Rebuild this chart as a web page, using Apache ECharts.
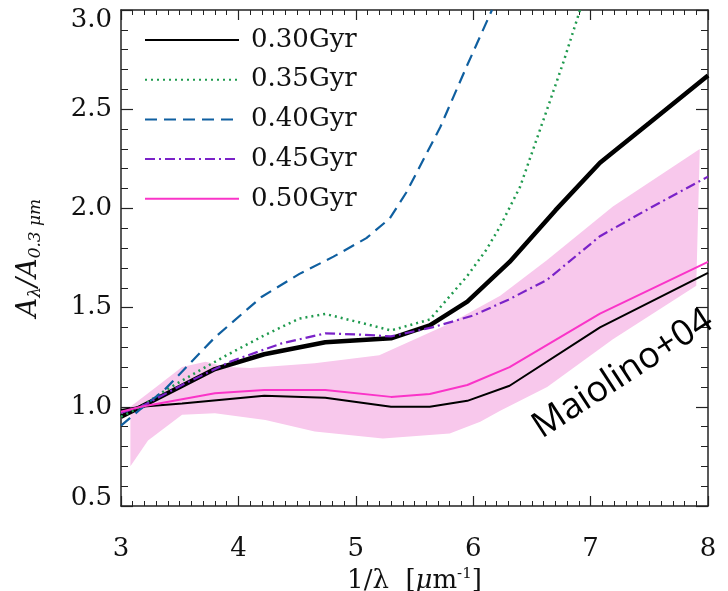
<!DOCTYPE html>
<html>
<head>
<meta charset="utf-8">
<script src="https://cdn.jsdelivr.net/npm/echarts@6/dist/echarts.min.js"></script>
<style>
html,body{margin:0;padding:0;background:#fff;}
#chart{width:728px;height:591px;}
</style>
</head>
<body>
<div id="chart"></div>
<script>
// ---- data ----
var xTicks = [3, 4, 5, 6, 7, 8];
var yTicks = [0.5, 1.0, 1.5, 2.0, 2.5, 3.0];

var legendNames = ['0.30Gyr', '0.35Gyr', '0.40Gyr', '0.45Gyr', '0.50Gyr'];

// thick black (unlabelled)
var thickX = [3.0, 3.17, 3.5, 3.8, 4.22, 4.74, 5.3, 5.63, 5.95, 6.31, 6.7, 7.08, 7.5, 8.0];
var thickY = [0.95, 1.0, 1.10, 1.19, 1.265, 1.325, 1.345, 1.41, 1.53, 1.73, 1.99, 2.23, 2.43, 2.67];

// 0.30 Gyr (thin black)
var g030X = [3.0, 3.17, 3.52, 4.22, 4.74, 5.3, 5.63, 5.95, 6.31, 7.08, 8.0];
var g030Y = [0.984, 1.0, 1.017, 1.056, 1.046, 1.0, 1.0, 1.03, 1.106, 1.40, 1.675];

// 0.35 Gyr (green dotted)
var g035X = [3.0, 3.17, 3.37, 3.66, 3.9, 4.22, 4.52, 4.74, 5.0, 5.3, 5.63, 5.95, 6.11, 6.23, 6.4, 6.63, 6.77, 6.91];
var g035Y = [0.95, 1.0, 1.08, 1.18, 1.26, 1.36, 1.445, 1.468, 1.43, 1.385, 1.44, 1.66, 1.79, 1.91, 2.11, 2.50, 2.74, 3.0];

// 0.40 Gyr (blue dashed)
var g040X = [3.0, 3.17, 3.37, 3.8, 4.2, 4.52, 4.81, 5.09, 5.29, 5.43, 5.72, 5.94, 6.16];
var g040Y = [0.905, 0.99, 1.085, 1.35, 1.555, 1.67, 1.757, 1.85, 1.95, 2.08, 2.41, 2.71, 3.0];

// 0.45 Gyr (purple dash-dot)
var g045X = [3.0, 3.17, 3.52, 3.94, 4.37, 4.74, 5.0, 5.3, 5.65, 6.0, 6.3, 6.63, 7.08, 7.5, 8.0];
var g045Y = [0.97, 1.0, 1.11, 1.23, 1.32, 1.37, 1.365, 1.355, 1.40, 1.46, 1.54, 1.64, 1.86, 2.00, 2.16];

// 0.50 Gyr (magenta)
var g050X = [3.0, 3.17, 3.8, 4.22, 4.74, 5.3, 5.63, 5.95, 6.31, 7.08, 8.0];
var g050Y = [0.975, 1.0, 1.068, 1.085, 1.085, 1.05, 1.065, 1.11, 1.20, 1.47, 1.73];

// Maiolino+04 band
var bandUpX = [3.08, 3.3, 3.52, 3.72, 3.9, 4.1, 4.65, 5.2, 5.8, 6.23, 6.63, 7.19, 7.93];
var bandUpY = [1.0, 1.10, 1.20, 1.227, 1.20, 1.195, 1.22, 1.26, 1.42, 1.56, 1.74, 2.01, 2.30];
var bandLoX = [3.08, 3.23, 3.52, 3.8, 4.23, 4.65, 5.23, 5.8, 6.06, 6.23, 6.63, 7.19, 7.90];
var bandLoY = [0.70, 0.83, 0.96, 0.967, 0.934, 0.875, 0.84, 0.866, 0.925, 0.98, 1.10, 1.34, 1.61];

var bandLabel = 'Maiolino+04';

function pairs(xs, ys) {
  var out = [];
  for (var i = 0; i < xs.length; i++) out.push([xs[i], ys[i]]);
  return out;
}

var chart = echarts.init(document.getElementById('chart'), null, {renderer: 'canvas'});

var serifFont = 'DejaVu Serif';

function mkX(pos, showLabels) {
  return {
    type: 'value', position: pos, min: 3, max: 8, interval: 1,
    axisLine: {show: true, onZero: false, lineStyle: {color: '#222', width: 1.5}},
    axisTick: {show: true, inside: true, length: 10, lineStyle: {color: '#222', width: 1.2}},
    minorTick: {show: true, splitNumber: 10, length: 5, lineStyle: {color: '#222', width: 1}},
    splitLine: {show: false},
    axisLabel: {show: showLabels, margin: 30, fontFamily: serifFont, fontSize: 26, color: '#111'},
    name: showLabels ? '{n|1/λ  [}{i|μ}{n|m}{sup|-1}{n|]}' : '',
    nameLocation: 'middle', nameGap: 52,
    nameTextStyle: {
      rich: {
        n: {fontFamily: serifFont, fontSize: 26, color: '#111', lineHeight: 30},
        i: {fontFamily: serifFont, fontStyle: 'italic', fontSize: 26, color: '#111', lineHeight: 30},
        sup: {fontFamily: serifFont, fontSize: 15, color: '#111', lineHeight: 30, padding: [0, 0, 14, 0]}
      }
    }
  };
}
function mkY(pos, showLabels) {
  return {
    type: 'value', position: pos, min: 0.5, max: 3.0, interval: 0.5,
    axisLine: {show: true, onZero: false, lineStyle: {color: '#222', width: 1.5}},
    axisTick: {show: true, inside: true, length: 12, lineStyle: {color: '#222', width: 1.2}},
    minorTick: {show: true, splitNumber: 5, length: 7, lineStyle: {color: '#222', width: 1}},
    splitLine: {show: false},
    axisLabel: {show: showLabels, margin: 9, fontFamily: serifFont, fontSize: 26, color: '#111',
      formatter: function (v) {
        var s = v.toFixed(1);
        if (v === yTicks[yTicks.length - 1]) return '{t|' + s + '}';
        if (v === yTicks[0]) return '{b|' + s + '}';
        return s;
      },
      rich: {
        t: {fontFamily: serifFont, fontSize: 26, color: '#111', padding: [20, 0, 0, 0]},
        b: {fontFamily: serifFont, fontSize: 26, color: '#111', padding: [0, 0, 16, 0]}
      }},
    name: showLabels ? '{i|A}{sub|λ}{i|/A}{sub|0.3 μm}' : '',
    nameLocation: 'middle', nameGap: 75, nameRotate: 90,
    nameTextStyle: {
      rich: {
        i: {fontFamily: serifFont, fontStyle: 'italic', fontSize: 27, color: '#111', lineHeight: 34},
        sub: {fontFamily: serifFont, fontStyle: 'italic', fontSize: 17, color: '#111', lineHeight: 34, padding: [14, 0, 0, 0]}
      }
    }
  };
}

var lineDefaults = {type: 'line', symbol: 'none', showSymbol: false, smooth: false, clip: true, z: 3};

var option = {
  animation: false,
  backgroundColor: '#fff',
  grid: {left: 121, right: 20, top: 10, bottom: 85, containLabel: false, outerBoundsMode: 'none'},
  xAxis: [mkX('bottom', true), mkX('top', false)],
  yAxis: [mkY('left', true), mkY('right', false)],
  legend: {
    data: legendNames,
    orient: 'vertical', left: 144, top: 25, padding: 0,
    itemWidth: 94, itemHeight: 30, itemGap: 9.7,
    itemStyle: {opacity: 0},
    textStyle: {fontFamily: serifFont, fontSize: 26, color: '#111', padding: [0, 0, 0, 7], lineHeight: 30},
    selectedMode: false
  },
  graphic: [{
    type: 'text', x: 623, y: 374, rotation: 33 * Math.PI / 180,
    style: {text: bandLabel, fontFamily: 'Open Sans', fontSize: 36, fill: '#000',
      align: 'center', verticalAlign: 'middle'},
    z: 10
  }],
  series: [
    {
      type: 'custom', name: bandLabel, silent: true, z: 1, clip: true,
      data: [[bandUpX[0], bandUpY[0]]],
      renderItem: function (params, api) {
        var pts = [];
        for (var i = 0; i < bandUpX.length; i++) pts.push(api.coord([bandUpX[i], bandUpY[i]]));
        for (var j = bandLoX.length - 1; j >= 0; j--) pts.push(api.coord([bandLoX[j], bandLoY[j]]));
        return {type: 'polygon', shape: {points: pts}, style: {fill: '#f8c8ec', stroke: null}};
      }
    },
    Object.assign({}, lineDefaults, {name: 'thick', data: pairs(thickX, thickY),
      lineStyle: {color: '#000', width: 4.5}, itemStyle: {color: '#000'}}),
    Object.assign({}, lineDefaults, {name: '0.30Gyr', data: pairs(g030X, g030Y),
      lineStyle: {color: '#000', width: 2}, itemStyle: {color: '#000'}}),
    Object.assign({}, lineDefaults, {name: '0.35Gyr', data: pairs(g035X, g035Y),
      lineStyle: {color: '#1f9a4e', width: 2.5, type: [2, 4]}, itemStyle: {color: '#1f9a4e'}}),
    Object.assign({}, lineDefaults, {name: '0.40Gyr', data: pairs(g040X, g040Y),
      lineStyle: {color: '#0f5fa0', width: 2.2, type: [12, 7]}, itemStyle: {color: '#0f5fa0'}}),
    Object.assign({}, lineDefaults, {name: '0.45Gyr', data: pairs(g045X, g045Y),
      lineStyle: {color: '#7a22c8', width: 2.2, type: [10, 4, 2, 4]}, itemStyle: {color: '#7a22c8'}}),
    Object.assign({}, lineDefaults, {name: '0.50Gyr', data: pairs(g050X, g050Y),
      lineStyle: {color: '#fa34c8', width: 2}, itemStyle: {color: '#fa34c8'}})
  ]
};
chart.setOption(option);
</script>
</body>
</html>
